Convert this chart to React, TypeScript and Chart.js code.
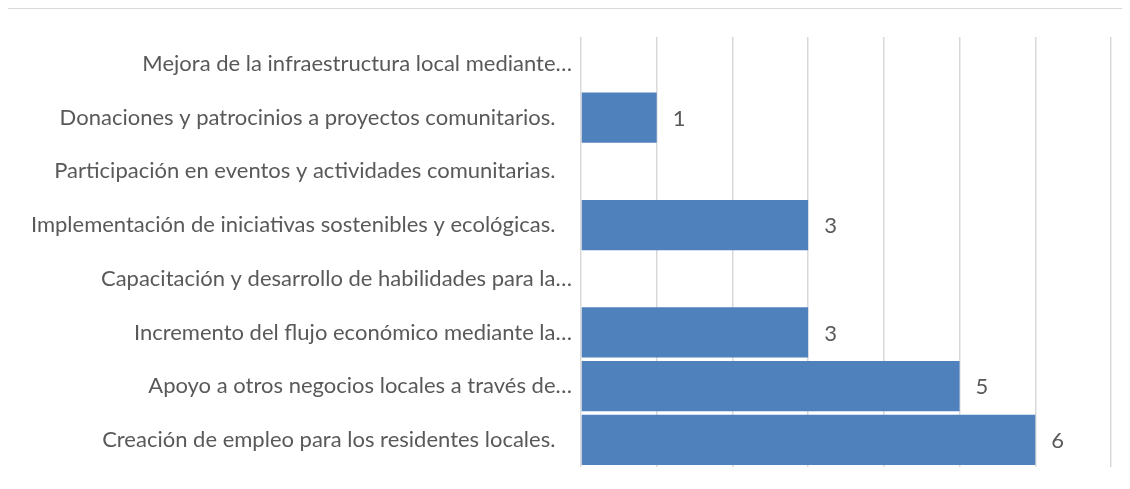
import React, { useEffect, useRef } from "react";
import { Chart, registerables } from "chart.js";

Chart.register(...registerables);

const categories: string[] = [
  "Mejora de la infraestructura local mediante…",
  "Donaciones y patrocinios a proyectos comunitarios.",
  "Participación en eventos y actividades comunitarias.",
  "Implementación de iniciativas sostenibles y ecológicas.",
  "Capacitación y desarrollo de habilidades para la…",
  "Incremento del flujo económico mediante la…",
  "Apoyo a otros negocios locales a través de…",
  "Creación de empleo para los residentes locales.",
];

const values: number[] = [0, 1, 0, 3, 0, 3, 5, 6];

const xTicks: number[] = [0, 1, 2, 3, 4, 5, 6, 7];

const FONT = "Lato";
const FONT_SIZE = 22;
const TEXT_COLOR = "#595959";

const valueLabels = {
  id: "valueLabels",
  afterDatasetsDraw(chart: any) {
    const ctx = chart.ctx;
    const meta = chart.getDatasetMeta(0);
    ctx.save();
    ctx.font = `${FONT_SIZE}px ${FONT}`;
    ctx.fillStyle = TEXT_COLOR;
    ctx.textAlign = "left";
    ctx.textBaseline = "middle";
    meta.data.forEach((bar: any, i: number) => {
      const v = values[i];
      if (!v) return;
      ctx.fillText(String(v), bar.x + 16, bar.y + 1);
    });
    ctx.restore();
  },
};

export default function App() {
  const ref = useRef<HTMLCanvasElement>(null);

  useEffect(() => {
    if (!ref.current) return;
    const chart = new Chart(ref.current, {
      type: "bar",
      data: {
        labels: categories,
        datasets: [
          {
            data: values,
            backgroundColor: "#4F81BD",
            borderWidth: 0,
            barPercentage: 0.935,
            categoryPercentage: 1,
          },
        ],
      },
      options: {
        indexAxis: "y",
        responsive: false,
        animation: false,
        layout: { padding: { top: 29, bottom: 7, right: 11, left: 0 } },
        plugins: {
          legend: { display: false },
          tooltip: { enabled: false },
        },
        scales: {
          x: {
            min: xTicks[0],
            max: xTicks[xTicks.length - 1],
            ticks: { display: false, stepSize: 1 },
            grid: { color: "#d9d9d9", lineWidth: 1.5, drawTicks: false },
            border: { display: false },
            afterFit: (s: any) => {
              s.height = 0;
            },
          },
          y: {
            grid: { display: false },
            border: { display: false },
            ticks: {
              color: TEXT_COLOR,
              font: { family: FONT, size: FONT_SIZE },
              padding: 1,
              autoSkip: false,
              callback: (_v: any, i: number) =>
                categories[i].endsWith(".") ? categories[i] + "\u2002 " : categories[i],
            },
            afterFit: (s: any) => {
              s.width = 573;
            },
          },
        },
      },
      plugins: [valueLabels],
    });
    return () => chart.destroy();
  }, []);

  return (
    <div style={{ position: "relative", width: 1114, height: 473 }}>
      <div
        style={{
          position: "absolute",
          left: -1,
          top: 0,
          right: -8,
          bottom: -8,
          borderTop: "1px solid #d9d9d9",
          borderLeft: "1px solid #d9d9d9",
          pointerEvents: "none",
        }}
      />
      <canvas ref={ref} width={1114} height={473} style={{ display: "block" }} />
    </div>
  );
}
